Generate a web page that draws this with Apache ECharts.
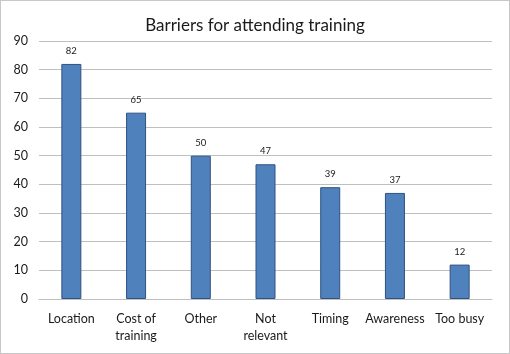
<!DOCTYPE html>
<html>
<head>
<meta charset="utf-8">
<script src="https://cdn.jsdelivr.net/npm/echarts@6/dist/echarts.min.js"></script>
<style>
  html, body { margin: 0; padding: 0; background: #fff; }
  #chart {
    width: 508px;
    height: 352px;
    border: 1px solid #c8c8c8;
  }
</style>
</head>
<body>
<div id="chart"></div>
<script>
const categories = ['Location', 'Cost of\ntraining', 'Other', 'Not\nrelevant', 'Timing', 'Awareness', 'Too busy']
const counts = [82, 65, 50, 47, 39, 37, 12]
const yTicks = { min: 0, max: 90, interval: 10 }

const chart = echarts.init(document.getElementById('chart'))
const font = 'Lato, "Open Sans", sans-serif'

const option = {
  animation: false,
  title: {
    text: 'Barriers for attending training',
    left: 'center',
    top: 11,
    textStyle: {
      fontFamily: font,
      fontSize: 17,
      fontWeight: 'normal',
      color: '#1a1a1a'
    }
  },
  grid: {
    left: 38,
    right: 17,
    top: 40,
    bottom: 54
  },
  xAxis: {
    type: 'category',
    data: categories,
    axisLine: { lineStyle: { color: '#bfbfbf', width: 1 } },
    axisTick: { show: false },
    axisLabel: {
      fontFamily: font,
      fontSize: 12.5,
      color: '#1a1a1a',
      margin: 11,
      lineHeight: 17,
      interval: 0
    }
  },
  yAxis: {
    type: 'value',
    min: yTicks.min,
    max: yTicks.max,
    interval: yTicks.interval,
    axisLine: { show: false },
    axisTick: { show: false },
    axisLabel: {
      fontFamily: font,
      fontSize: 12.5,
      color: '#1a1a1a',
      margin: 11
    },
    splitLine: { lineStyle: { color: '#bfbfbf', width: 1 } }
  },
  series: [
    {
      type: 'bar',
      data: counts,
      barWidth: 20,
      itemStyle: {
        color: '#4f81bd',
        borderColor: '#2f5280',
        borderWidth: 1
      },
      label: {
        show: true,
        position: 'top',
        distance: 8,
        fontFamily: font,
        fontSize: 9.5,
        color: '#1a1a1a'
      }
    }
  ]
}

chart.setOption(option)
</script>
</body>
</html>
